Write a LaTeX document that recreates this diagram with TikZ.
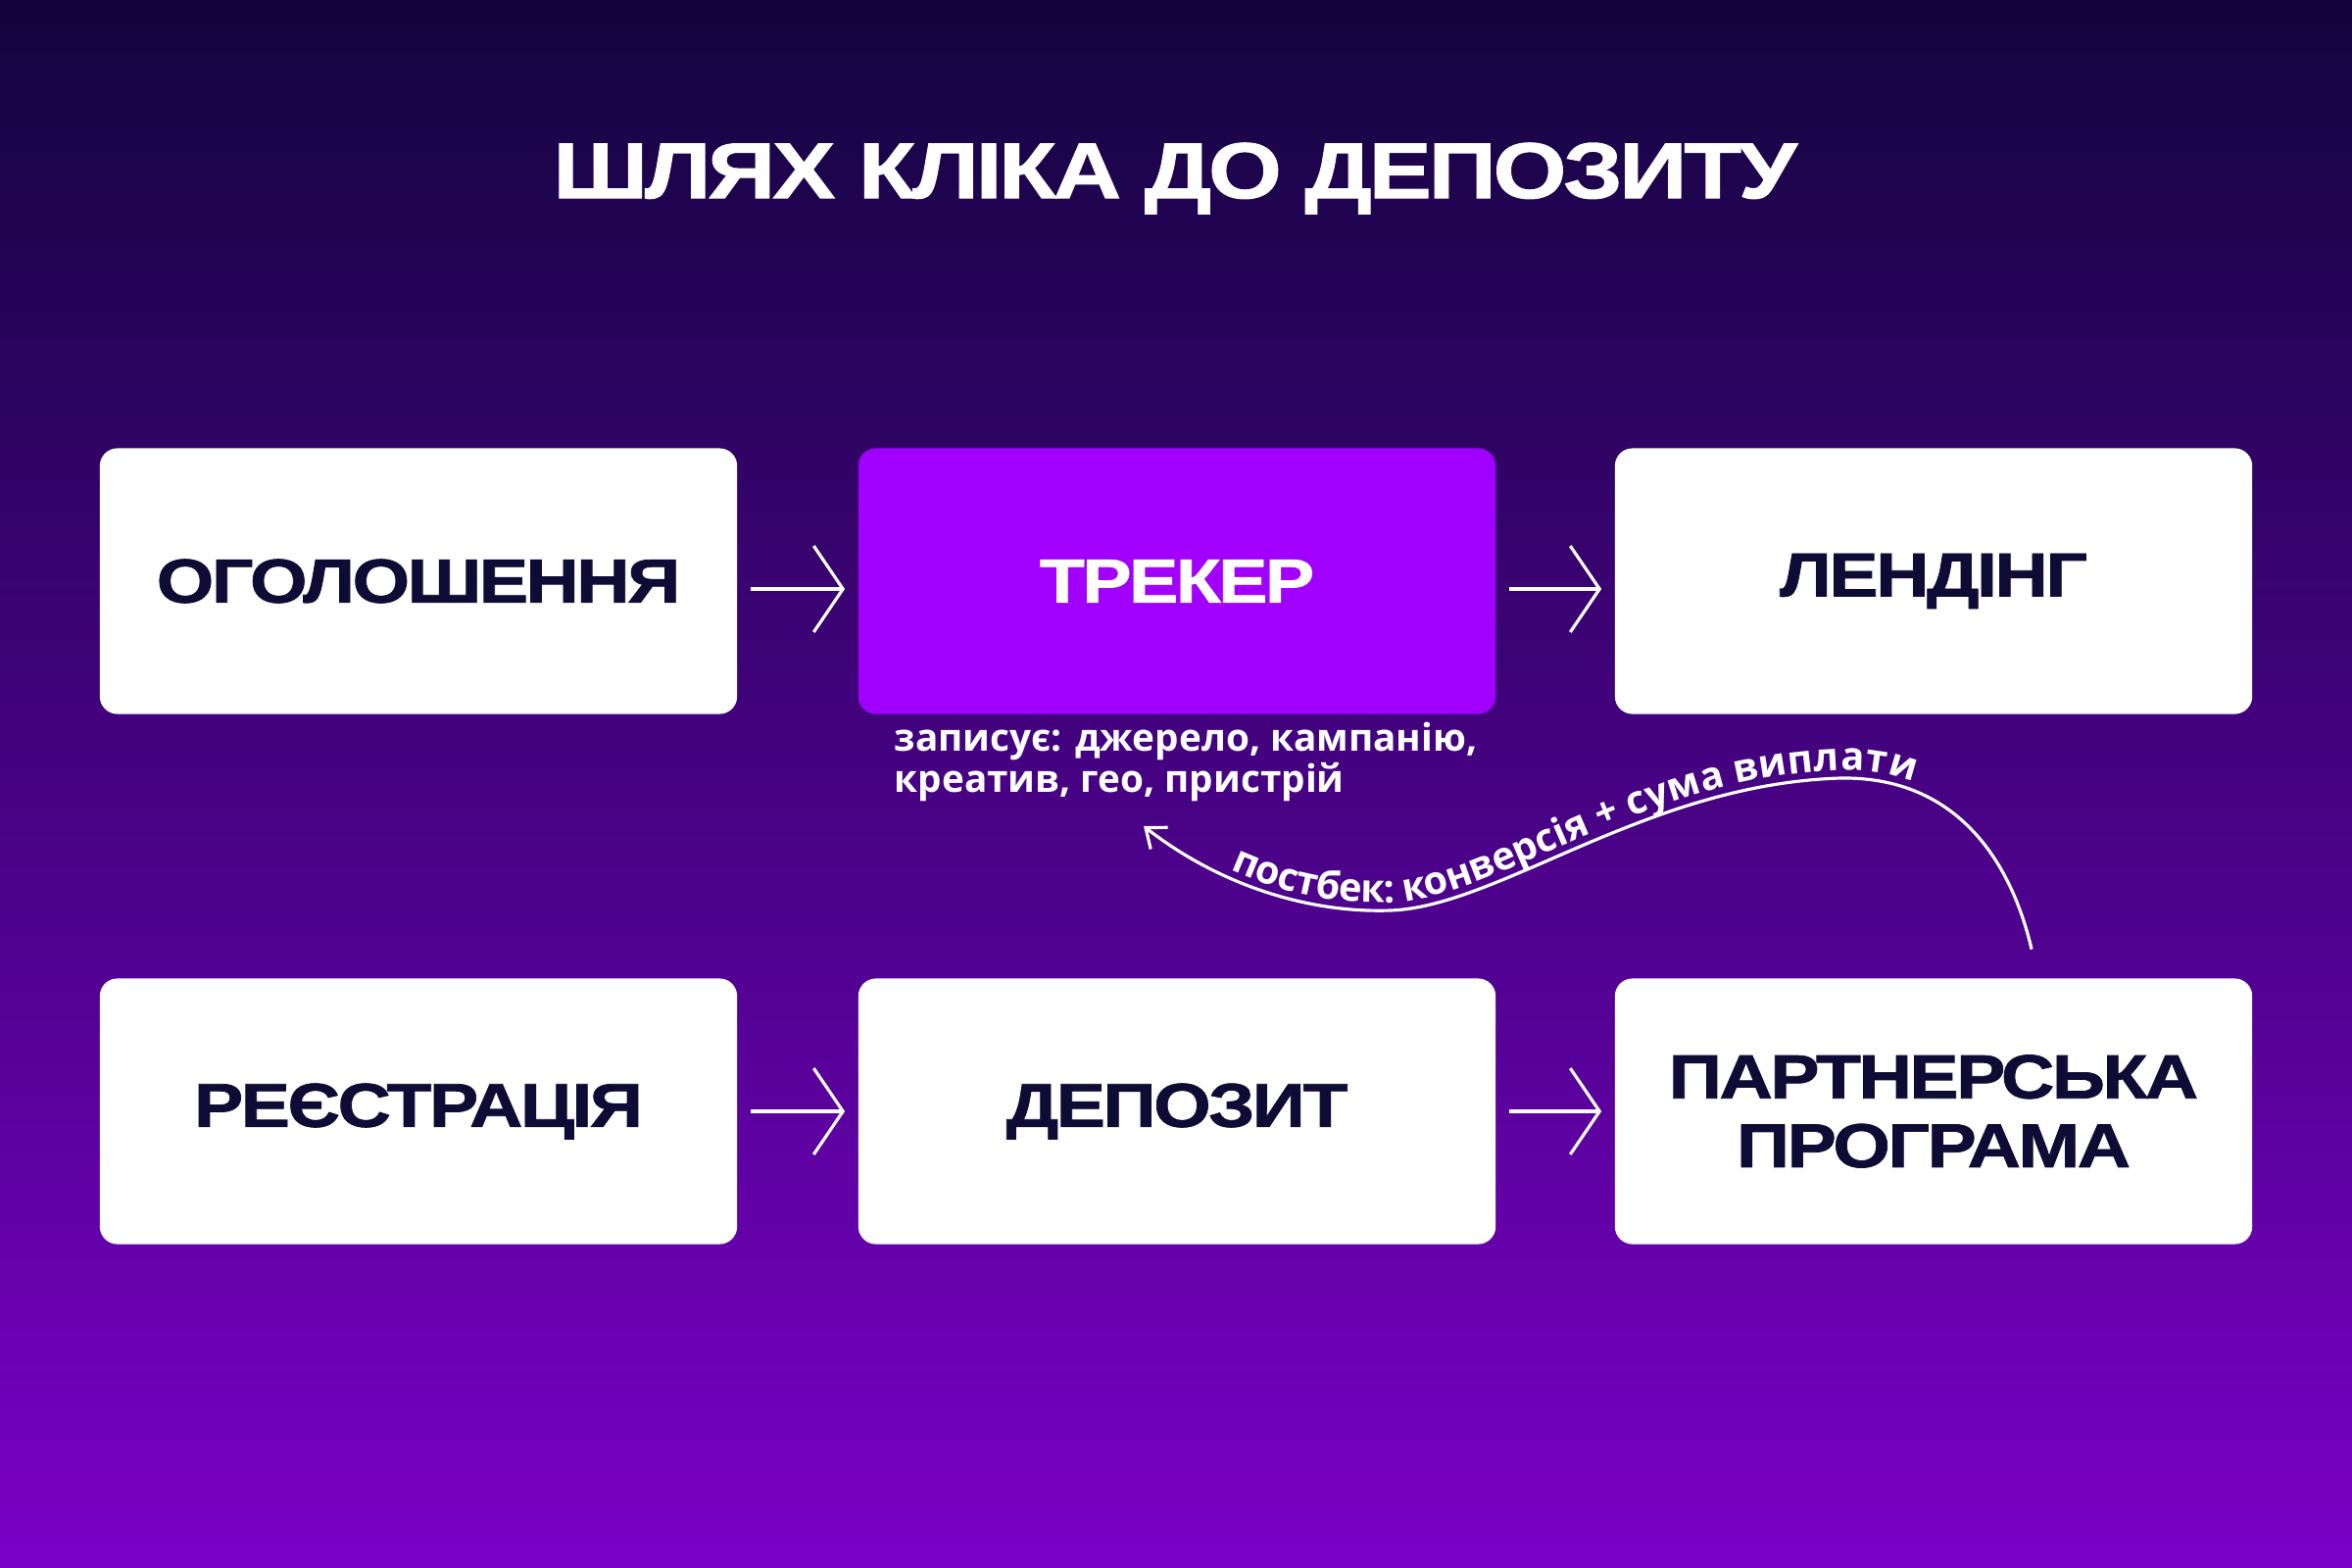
\documentclass[tikz,border=0pt]{standalone}
\usepackage{fontspec}
\setmainfont{Open Sans}
\newfontfamily\widefont[FakeStretch=1.19, LetterSpace=-4, FakeBold=1.2]{Liberation Sans}
\usetikzlibrary{arrows.meta,decorations.text}
\definecolor{bgtop}{HTML}{12043E}
\definecolor{bgbot}{HTML}{7A00C6}
\definecolor{trackerfill}{HTML}{A100FF}
\definecolor{ink}{HTML}{0E0B35}

\begin{document}
\begin{tikzpicture}[x=0.01cm, y=-0.01cm,
  box/.style={rounded corners=0.18cm, fill=white, minimum width=6.5cm, minimum height=2.71cm, inner sep=0, align=center, text=ink, font=\widefont\bfseries\fontsize{18}{20}\selectfont},
  flow/.style={-{Straight Barb[length=8.5pt,width=25pt]}, white, line width=0.9pt, shorten <=0.13cm, shorten >=0.13cm},
  back/.style={-{Straight Barb[length=5pt,width=8pt]}, white, line width=0.9pt}]

\shade [top color=bgtop, bottom color=bgbot] (0,0) rectangle (2400,1600);
\useasboundingbox (0,0) rectangle (2400,1600);

\node (title) [text=white, font=\widefont\bfseries\fontsize{23}{25}\selectfont] at (1199,182) {ШЛЯХ КЛІКА ДО ДЕПОЗИТУ};

\node (ad) [box] at (427,593) {ОГОЛОШЕННЯ};
\node (tracker) [box, fill=trackerfill, text=white] at (1201,593) {ТРЕКЕР};
\node (landing) [box] at (1973,593) {ЛЕНДІНГ};
\node (signup) [box] at (427,1134) {РЕЄСТРАЦІЯ};
\node (deposit) [box] at (1201,1134) {ДЕПОЗИТ};
\node (partner) [box] at (1973,1134) {ПАРТНЕРСЬКА\\ПРОГРАМА};

\node (note) [anchor=north west, inner sep=0, align=left, text=white, font=\bfseries\fontsize{11}{12}\selectfont] at (912,736) {записує: джерело, кампанію,\\креатив, гео, пристрій};

\draw [flow] ([yshift=-0.08cm]ad.east) -- ([yshift=-0.08cm]tracker.west);
\draw [flow] ([yshift=-0.08cm]tracker.east) -- ([yshift=-0.08cm]landing.west);
\draw [flow] (signup) -- (deposit);
\draw [flow] (deposit) -- (partner);

% postback goes back to the tracker
\coordinate (tip) at (1167,843);
\coordinate (src) at ([xshift=1cm, yshift=0.29cm]partner.north);
\draw [back] (src) .. controls (2050,870) and (1990,792) .. (1878,794) .. controls (1680,800) and (1530,925) .. (1419,929) .. controls (1330,932) and (1240,900) .. (tip);
\path [decorate, decoration={text along path, text color=white, raise=0.08cm, text align={left indent=1.0cm},
  text={|\bfseries\fontsize{11.3}{13}\selectfont|постбек: конверсія + сума виплати}}]
  (tip) .. controls (1240,900) and (1330,932) .. (1419,929) .. controls (1530,925) and (1680,800) .. (1878,794) .. controls (1990,792) and (2050,870) .. (src);
\end{tikzpicture}
\end{document}
